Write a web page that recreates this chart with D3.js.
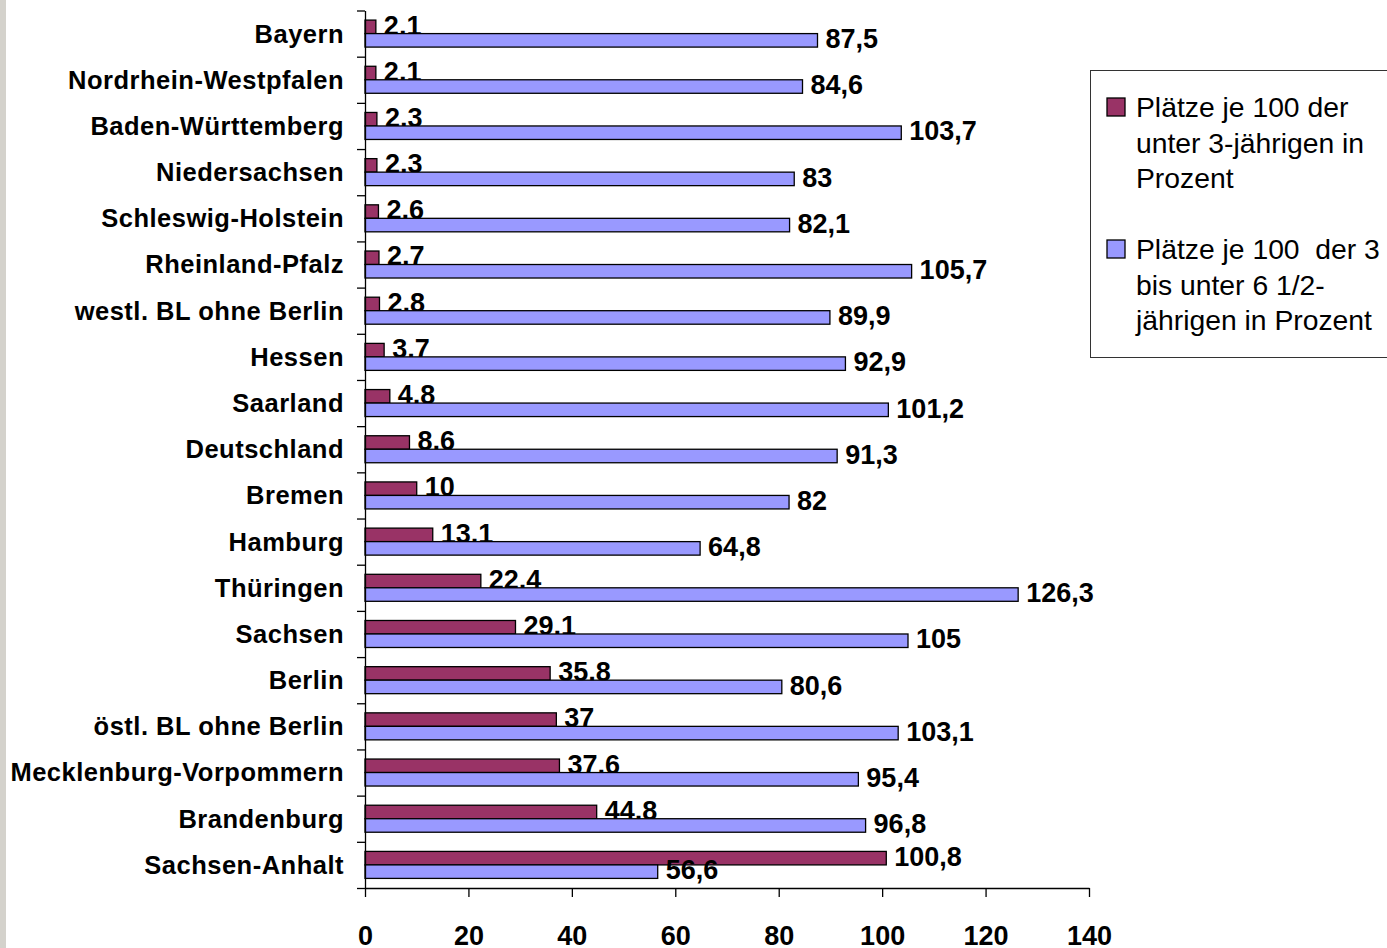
<!DOCTYPE html>
<html>
<head>
<meta charset="utf-8">
<script src="https://cdn.jsdelivr.net/npm/d3@7"></script>
<style>
  body { margin: 0; background: #fff; }
  svg { display: block; font-family: Arial, "Liberation Sans", sans-serif; }
</style>
</head>
<body>
<svg id="chart" width="1387" height="948"></svg>
<script>
var categories = ["Bayern", "Nordrhein-Westpfalen", "Baden-Württemberg", "Niedersachsen",
  "Schleswig-Holstein", "Rheinland-Pfalz", "westl. BL ohne Berlin", "Hessen", "Saarland",
  "Deutschland", "Bremen", "Hamburg", "Thüringen", "Sachsen", "Berlin",
  "östl. BL ohne Berlin", "Mecklenburg-Vorpommern", "Brandenburg", "Sachsen-Anhalt"];
var under3 = [2.1, 2.1, 2.3, 2.3, 2.6, 2.7, 2.8, 3.7, 4.8, 8.6, 10, 13.1, 22.4, 29.1, 35.8, 37, 37.6, 44.8, 100.8];
var from3to6 = [87.5, 84.6, 103.7, 83, 82.1, 105.7, 89.9, 92.9, 101.2, 91.3, 82, 64.8, 126.3, 105, 80.6, 103.1, 95.4, 96.8, 56.6];
var xTicks = [0, 20, 40, 60, 80, 100, 120, 140];
var legendLines = [
  ["Plätze je 100 der", "unter 3-jährigen in", "Prozent"],
  ["Plätze je 100  der 3", "bis unter 6 1/2-", "jährigen in Prozent"]
];

var maroon = "#993366", blue = "#9999ff";

var svg = d3.select("#chart");

// grey strip at the left edge
svg.append("rect").attr("x", 0).attr("y", 0).attr("width", 6).attr("height", 948).attr("fill", "#d4d2cc");

var x = d3.scaleLinear().domain([0, 140]).range([365, 1089]);
var y = d3.scaleBand().domain(categories).range([10.5, 888]).paddingInner(0).paddingOuter(0);
var bw = y.bandwidth();
var groupH = 27;
var sub = d3.scaleBand().domain(["a", "b"]).range([0, groupH]);

function fmt(v) { return String(v).replace(".", ","); }

var rows = categories.map(function (c, i) { return { cat: c, a: under3[i], b: from3to6[i] }; });

function barY(d, s) { return y(d.cat) + (bw - groupH) / 2 + sub(s); }

// maroon bars + labels first, blue bars drawn over them
svg.append("g").selectAll("rect").data(rows).enter().append("rect")
  .attr("x", x(0))
  .attr("y", function (d) { return barY(d, "a"); })
  .attr("width", function (d) { return x(d.a) - x(0); })
  .attr("height", sub.bandwidth())
  .attr("fill", maroon).attr("stroke", "#000").attr("stroke-width", 1.3);

svg.append("g").selectAll("text").data(rows).enter().append("text")
  .attr("x", function (d) { return x(d.a) + 8; })
  .attr("y", function (d) { return barY(d, "a") + sub.bandwidth() / 2 - 2; })
  .attr("dy", "0.36em")
  .attr("font-size", 27).attr("font-weight", "bold").attr("fill", "#000")
  .text(function (d) { return fmt(d.a); });

svg.append("g").selectAll("rect").data(rows).enter().append("rect")
  .attr("x", x(0))
  .attr("y", function (d) { return barY(d, "b"); })
  .attr("width", function (d) { return x(d.b) - x(0); })
  .attr("height", sub.bandwidth())
  .attr("fill", blue).attr("stroke", "#000").attr("stroke-width", 1.3);

svg.append("g").selectAll("text").data(rows).enter().append("text")
  .attr("x", function (d) { return x(d.b) + 8; })
  .attr("y", function (d) { return barY(d, "b") + sub.bandwidth() / 2 - 2; })
  .attr("dy", "0.36em")
  .attr("font-size", 27).attr("font-weight", "bold").attr("fill", "#000")
  .text(function (d) { return fmt(d.b); });

// category axis: ticks between the categories
var yb = d3.scaleLinear().domain([0, categories.length]).range([10.5, 888]);
var yAxis = svg.append("g").attr("transform", "translate(" + x(0) + ",0)")
  .call(d3.axisLeft(yb).tickValues(d3.range(categories.length + 1)).tickSize(8).tickSizeOuter(0).tickFormat(""));
yAxis.selectAll("path, line").attr("stroke", "#000").attr("stroke-width", 1.3);

svg.append("g").selectAll("text").data(categories).enter().append("text")
  .attr("x", 344)
  .attr("y", function (d) { return y(d) + bw / 2; })
  .attr("dy", "0.35em")
  .attr("text-anchor", "end")
  .attr("font-size", 25.5).attr("font-weight", "bold").attr("letter-spacing", 0.5).attr("fill", "#000")
  .text(function (d) { return d; });

// value axis
var xAxis = svg.append("g").attr("transform", "translate(0,888)")
  .call(d3.axisBottom(x).tickValues(xTicks).tickSize(9).tickSizeOuter(0).tickPadding(29).tickFormat(d3.format("d")));
xAxis.selectAll("path, line").attr("stroke", "#000").attr("stroke-width", 1.3);
xAxis.selectAll("text").attr("font-size", 27).attr("font-weight", "bold").attr("fill", "#000")
  .attr("font-family", "Arial, 'Liberation Sans', sans-serif");

// legend
var legend = svg.append("g");
legend.append("rect").attr("x", 1090.5).attr("y", 70.5).attr("width", 320).attr("height", 287)
  .attr("fill", "#fff").attr("stroke", "#333").attr("stroke-width", 1);
var legendColors = [maroon, blue];
var legendTop = [107, 249];
legendLines.forEach(function (lines, i) {
  legend.append("rect").attr("x", 1107).attr("y", legendTop[i] - 9).attr("width", 18).attr("height", 18)
    .attr("fill", legendColors[i]).attr("stroke", "#000").attr("stroke-width", 1.3);
  lines.forEach(function (t, j) {
    legend.append("text")
      .attr("x", 1136).attr("y", legendTop[i] + j * 35.7)
      .attr("dy", "0.35em")
      .attr("font-size", 28.3).attr("fill", "#000")
      .style("white-space", "pre")
      .text(t);
  });
});
</script>
</body>
</html>
